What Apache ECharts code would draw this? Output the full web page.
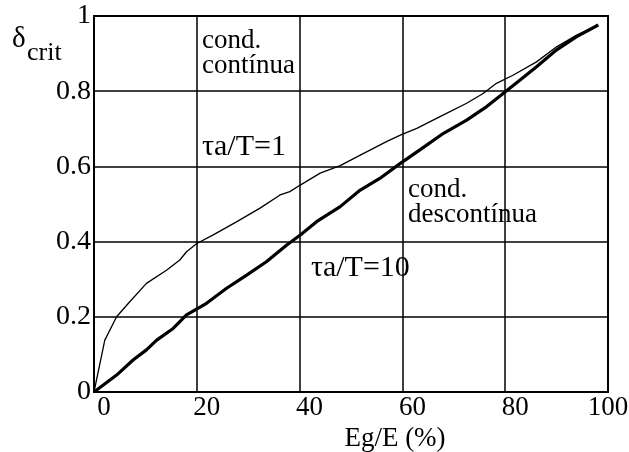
<!DOCTYPE html>
<html>
<head>
<meta charset="utf-8">
<script src="https://cdn.jsdelivr.net/npm/echarts@6/dist/echarts.min.js"></script>
<style>
  html, body { margin: 0; padding: 0; background: #fff; }
  #chart { width: 629px; height: 452px; }
</style>
</head>
<body>
<div id="chart"></div>
<script>
// tau_a/T = 1 (thin curve)
const thinX = [0, 2.1, 4.4, 6.7, 10.2, 14.1, 16.7, 18, 20, 23.2, 27.8, 32.3, 36.2, 38.1, 40.2, 44, 47.9, 51.8, 56.9, 59.7, 62.8, 68, 72.5, 75.7, 78.3, 81.6, 86.1, 90, 93.9, 98.1];
const thinY = [0, 0.138, 0.20, 0.236, 0.289, 0.324, 0.351, 0.373, 0.395, 0.418, 0.453, 0.489, 0.524, 0.533, 0.551, 0.582, 0.602, 0.63, 0.666, 0.684, 0.701, 0.737, 0.768, 0.794, 0.821, 0.843, 0.878, 0.918, 0.949, 0.976];
// tau_a/T = 10 (thick curve)
const thickX = [0, 4.4, 7.6, 10.2, 12.2, 15.4, 18, 21.9, 25.8, 29.7, 33.6, 37.5, 40.2, 43.3, 47.9, 51.8, 55.6, 59.4, 63.4, 68, 72.5, 76.4, 79.6, 82.9, 86.1, 90, 93.9, 98.1];
const thickY = [0, 0.045, 0.085, 0.112, 0.138, 0.169, 0.205, 0.236, 0.276, 0.311, 0.347, 0.391, 0.418, 0.453, 0.493, 0.537, 0.568, 0.606, 0.644, 0.688, 0.723, 0.759, 0.794, 0.83, 0.865, 0.91, 0.945, 0.976];

const xTicks = [0, 20, 40, 60, 80, 100];
const yTicks = [0, 0.2, 0.4, 0.6, 0.8, 1];

const notes = [
  { x: 21, y: 0.968, text: 'cond.\ncontínua', size: 27 },
  { x: 21, y: 0.685, text: 'τa/T=1', size: 30 },
  { x: 61.1, y: 0.572, text: 'cond.\ndescontínua', size: 27 },
  { x: 42.2, y: 0.362, text: 'τa/T=10', size: 30 }
];

const font = '"Liberation Serif", "Times New Roman", serif';
const chart = echarts.init(document.getElementById('chart'));

const option = {
  animation: false,
  backgroundColor: '#fff',
  textStyle: { fontFamily: font, color: '#000' },
  grid: {
    left: 94, right: 21, top: 16, bottom: 60,
    outerBoundsMode: 'none', containLabel: false,
    show: true, borderColor: '#000', borderWidth: 2
  },
  xAxis: {
    type: 'value', min: 0, max: 100, interval: 20,
    name: 'Eg/E (%)', nameLocation: 'middle', nameGap: 19,
    nameTextStyle: { fontFamily: font, fontSize: 27, color: '#000', padding: [0, 0, 0, 88] },
    axisLine: { lineStyle: { color: '#000', width: 2 } },
    axisTick: { show: false },
    splitLine: { lineStyle: { color: '#000', width: 1.5 } },
    axisLabel: {
      margin: 2, fontFamily: font, fontSize: 27, color: '#000',
      formatter: v => (v === 100 ? '{e|' + v + '}' : '{n|' + v + '}'),
      rich: {
        n: { padding: [0, 0, 0, 20], fontFamily: font, fontSize: 27, color: '#000' },
        e: { fontFamily: font, fontSize: 27, color: '#000' }
      }
    }
  },
  yAxis: {
    type: 'value', min: 0, max: 1, interval: 0.2,
    axisLine: { lineStyle: { color: '#000', width: 2 } },
    axisTick: { show: false },
    splitLine: { lineStyle: { color: '#000', width: 1.5 } },
    axisLabel: { margin: 3, fontFamily: font, fontSize: 28, color: '#000' }
  },
  graphic: [
    { type: 'text', left: 12, top: 25, style: { text: 'δ', font: '29px ' + font, fill: '#000' } },
    { type: 'text', left: 27, top: 40, style: { text: 'crit', font: '26px ' + font, fill: '#000' } }
  ],
  series: [
    {
      name: 'τa/T=1', type: 'line', showSymbol: false, symbol: 'none',
      lineStyle: { color: '#000', width: 1.3 },
      data: thinX.map((x, i) => [x, thinY[i]])
    },
    {
      name: 'τa/T=10', type: 'line', showSymbol: false, symbol: 'none',
      lineStyle: { color: '#000', width: 3.2 },
      data: thickX.map((x, i) => [x, thickY[i]])
    },
    {
      type: 'scatter', symbolSize: 0, silent: true,
      itemStyle: { opacity: 1 },
      data: notes.map(n => ({
        value: [n.x, n.y],
        label: {
          show: true, position: 'right', distance: 0, formatter: n.text,
          align: 'left', verticalAlign: 'top', opacity: 1,
          fontFamily: font, fontSize: n.size, lineHeight: 25, color: '#000'
        }
      }))
    }
  ]
};

chart.setOption(option);
</script>
</body>
</html>
